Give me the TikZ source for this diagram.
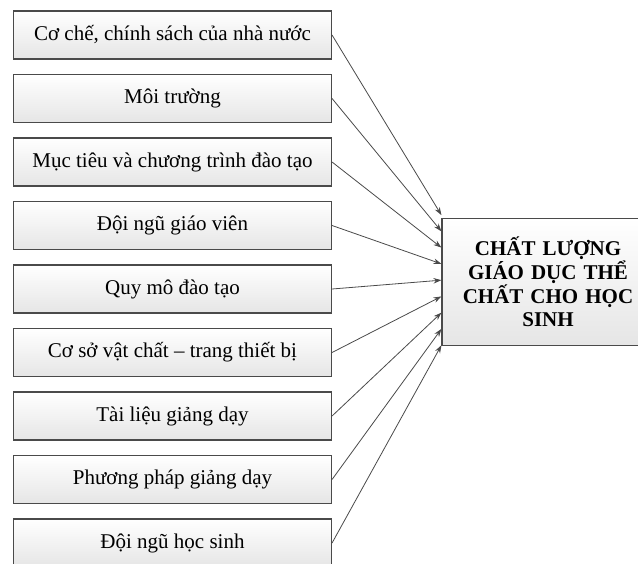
\documentclass[tikz,border=0pt]{standalone}
\usepackage{fontspec}
\setmainfont{Liberation Serif}
\usetikzlibrary{arrows.meta,calc}
\definecolor{edgegray}{HTML}{4A4A4A}
\begin{document}
\begin{tikzpicture}[x=1pt,y=-1pt,
  factorbox/.style={draw=edgegray,line width=1.1pt,top color=white,bottom color=black!10,
    minimum width=318pt,minimum height=48pt,inner sep=0pt,
    font=\fontsize{21}{25}\selectfont},
  resultbox/.style={draw=edgegray,line width=1.1pt,top color=white,bottom color=black!10,
    minimum width=212pt,minimum height=127pt,inner sep=0pt,text width=196pt,align=center,
    font=\bfseries\fontsize{21}{23.7}\selectfont},
  link/.style={draw=edgegray,line width=0.8pt,-{Stealth[length=8pt,width=5.5pt]}}]
\useasboundingbox (0,0) rectangle (638,563);
\clip (0,0) rectangle (638,563);
\node[factorbox] (b1) at (172.5,35) {Cơ chế, chính sách của nhà nước};
\node[factorbox] (b2) at (172.5,98.5) {Môi trường};
\node[factorbox] (b3) at (172.5,162) {Mục tiêu và chương trình đào tạo};
\node[factorbox] (b4) at (172.5,225.5) {Đội ngũ giáo viên};
\node[factorbox] (b5) at (172.5,289) {Quy mô đào tạo};
\node[factorbox] (b6) at (172.5,352.5) {Cơ sở vật chất – trang thiết bị};
\node[factorbox] (b7) at (172.5,416) {Tài liệu giảng dạy};
\node[factorbox] (b8) at (172.5,479.5) {Phương pháp giảng dạy};
\node[factorbox] (b9) at (172.5,543) {Đội ngũ học sinh};
\node[resultbox] (r) at (548,282) {CHẤT LƯỢNG\\GIÁO DỤC THỂ\\CHẤT CHO HỌC\\SINH};
\foreach \i in {1,...,9}{
  \coordinate (e\i) at ($(r.north west)+(0,{-2.8+16.25*(\i-1)})$);
  \draw[link] (b\i.east) -- (e\i);
}
\end{tikzpicture}
\end{document}
